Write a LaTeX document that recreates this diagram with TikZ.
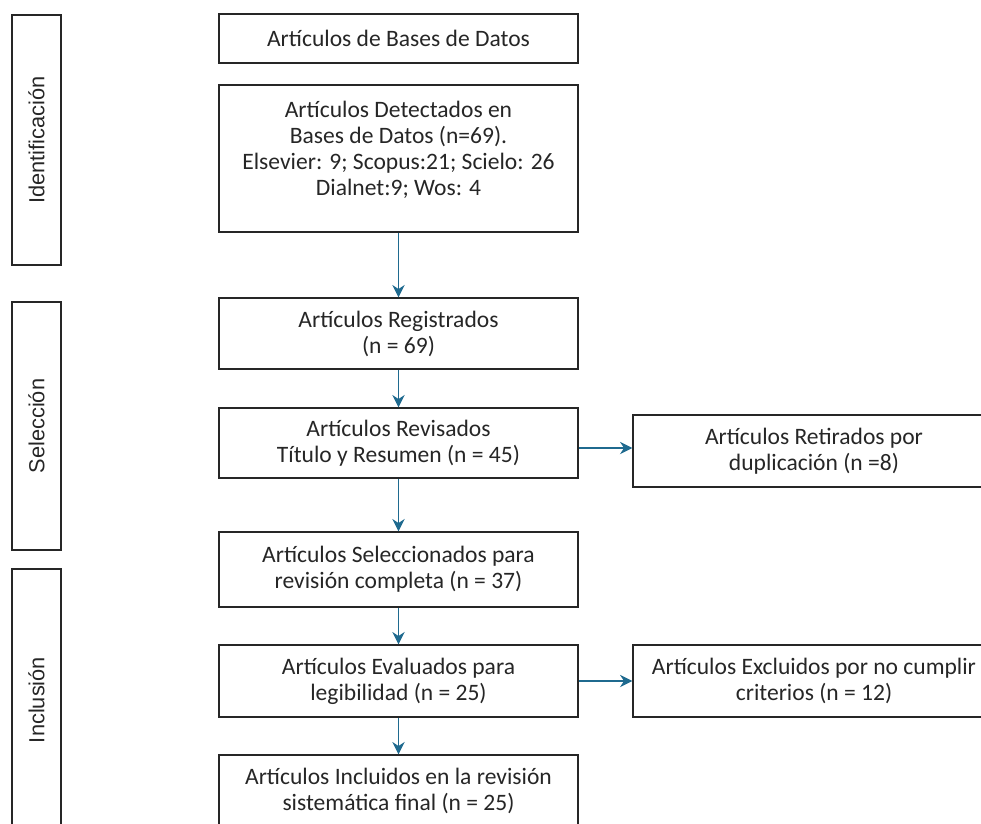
\documentclass[tikz,border=0pt]{standalone}
\usepackage{fontspec}
\setmainfont{Carlito}
\newfontfamily\phasefont{Liberation Sans}
\usepackage{tikz}
\usetikzlibrary{arrows.meta, calc, positioning}
\definecolor{arrowblue}{HTML}{1F6A8F}
\definecolor{boxtext}{HTML}{262626}
\tikzset{%
    edge/.style={%
        draw=arrowblue,
        line width=0.9pt,
        -{Stealth[length=7pt, width=7pt]},
    },
    stepbox/.style={%
        rectangle,
        draw=black!85,
        line width=0.8pt,
        minimum width=7.18cm,
        text=boxtext,
        font=\fontsize{13.4}{14.8}\selectfont,
        align=center,
        inner sep=0pt,
    },
    sidebox/.style={%
        stepbox,
        minimum width=7.24cm,
    },
    phase/.style={%
        rectangle,
        draw=black!85,
        line width=0.8pt,
        minimum height=0.98cm,
        text=boxtext,
        font=\phasefont\fontsize{12.4}{14}\selectfont,
        rotate=90,
        inner sep=0pt,
    },
}

\begin{document}
\begin{tikzpicture}[x=0.02cm, y=-0.02cm]
	\clip (0, 0) rectangle (981, 823);

	% phases on the left
	\node [phase, minimum width=5cm] at (36.5, 140) (ident) {Identificación};
	\node [phase, minimum width=4.96cm] at (36.5, 426) (selec) {Selección};
	\node [phase, minimum width=5.24cm] at (36.5, 700) (inclu) {Inclusión};

	% main column
	\node [stepbox, minimum height=0.98cm] at (398.5, 38.5) (bases) {Artículos de Bases de Datos};
	\node [stepbox, minimum height=2.94cm, text depth=0.42cm] at (398.5, 158.5) (detect) {Artículos Detectados en\\Bases de Datos (n=69).\\Elsevier: 9; Scopus:21; Scielo: 26\\Dialnet:9; Wos: 4};
	\node [stepbox, minimum height=1.42cm] at (398.5, 333.5) (regis) {Artículos Registrados\\(n = 69)};
	\node [stepbox, minimum height=1.4cm] at (398.5, 443) (revis) {Artículos Revisados\\Título y Resumen (n = 45)};
	\node [stepbox, minimum height=1.5cm] at (398.5, 569.5) (selecc) {Artículos Seleccionados para\\revisión completa (n = 37)};
	\node [stepbox, minimum height=1.44cm] at (398.5, 681) (evalu) {Artículos Evaluados para\\legibilidad (n = 25)};
	\node [stepbox, minimum height=1.44cm] at (398.5, 791) (inclui) {Artículos Incluidos en la revisión\\sistemática final (n = 25)};

	% side boxes, cut off on the right
	\node [sidebox, minimum height=1.44cm] at (814, 451) (retir) {Artículos Retirados por\\duplicación (n =8)};
	\node [sidebox, minimum height=1.44cm] at (814, 681) (exclu) {Artículos Excluidos por no cumplir\\criterios (n = 12)};

	\draw[edge] (detect) -- (regis);
	\draw[edge] (regis) -- (revis);
	\draw[edge] (revis) -- (selecc);
	\draw[edge] (selecc) -- (evalu);
	\draw[edge] (evalu) -- (inclui);

	\draw[edge] ($(revis.east |- retir.west) + (0, -3)$) -- ($(retir.west) + (0, -3)$);
	\draw[edge] (evalu.east) -- (exclu.west);
\end{tikzpicture}
\end{document}
